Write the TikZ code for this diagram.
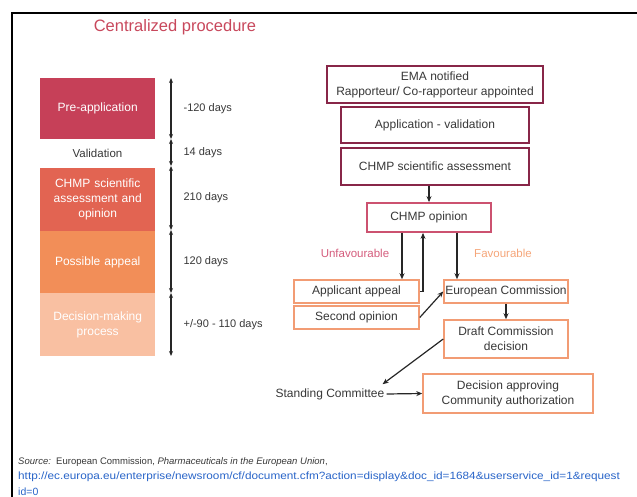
\documentclass[tikz,border=0pt]{standalone}
\usepackage{fontspec}
\usepackage{graphicx}
\setmainfont{Liberation Sans}
\usetikzlibrary{positioning, arrows.meta}
\definecolor{titleColor}{RGB}{200,72,92}
\definecolor{preColor}{RGB}{198,64,88}
\definecolor{chmpColor}{RGB}{226,100,82}
\definecolor{appealColor}{RGB}{242,142,88}
\definecolor{decisionColor}{RGB}{249,192,162}
\definecolor{maroonLine}{RGB}{136,38,72}
\definecolor{pinkLine}{RGB}{204,82,112}
\definecolor{orangeLine}{RGB}{242,156,116}
\definecolor{unfavColor}{RGB}{212,92,124}
\definecolor{favColor}{RGB}{245,166,122}
\definecolor{textGray}{RGB}{55,55,55}
\definecolor{urlBlue}{RGB}{40,100,200}
\tikzstyle{phaseStyle} = [anchor=north west, minimum width=115pt, text width=110pt, align=center, inner sep=0pt, text=white, font=\fontsize{12}{15}\selectfont]
\tikzstyle{stepStyle} = [draw, line width=1.8pt, text=textGray, align=center, inner sep=0pt, font=\fontsize{12}{15}\selectfont]
\tikzstyle{orangeStep} = [stepStyle, draw=orangeLine, line width=1.5pt]
\tikzstyle{flowArrow} = [-{Stealth[length=6pt, width=5pt]}, line width=1.2pt, black!85]
\tikzstyle{spanArrow} = [{Stealth[length=5pt, width=4pt]}-{Stealth[length=5pt, width=4pt]}, line width=1.2pt, black!85]
\tikzstyle{spanText} = [midway, right=12pt, inner sep=0pt, text=textGray, font=\fontsize{11}{13}\selectfont]
\tikzstyle{footText} = [anchor=west, inner sep=0pt, font=\fontsize{9.5}{11}\selectfont]
\newcommand{\timeSpan}[3]{\draw [spanArrow] (#1) -- (#2) node [spanText] {#3};}

\begin{document}
\begin{tikzpicture}[x=1pt, y=-1pt]
  \useasboundingbox (0,0) rectangle (637,497);
  \clip (0,0) rectangle (637,497);
  \draw [line width=2.5pt] (12,497) -- (12,13) -- (637,13);

  \node [text=titleColor, font=\fontsize{16.5}{20}\selectfont] (titleText) at (175,27) {Centralized procedure};

  \node [phaseStyle, fill=preColor, minimum height=61pt] (preApp) at (40,78) {Pre-application};
  \node [text=textGray, font=\fontsize{11.5}{14}\selectfont] (validationText) at (97.5,153) {Validation};
  \node [phaseStyle, fill=chmpColor, minimum height=63pt] (chmpPhase) at (40,168) {CHMP scientific\\assessment and\\opinion};
  \node [phaseStyle, fill=appealColor, minimum height=62pt] (appealPhase) at (40,231) {Possible appeal};
  \node [phaseStyle, fill=decisionColor, minimum height=63pt] (decisionPhase) at (40,293) {Decision-making\\process};

  \coordinate (tick0) at (171,78);
  \coordinate (tick1) at (171,139);
  \coordinate (tick2) at (171,166);
  \coordinate (tick3) at (171,230);
  \coordinate (tick4) at (171,293);
  \coordinate (tick5) at (171,356);
  \timeSpan{tick0}{tick1}{-120 days}
  \timeSpan{tick1}{tick2}{14 days}
  \timeSpan{tick2}{tick3}{210 days}
  \timeSpan{tick3}{tick4}{120 days}
  \timeSpan{tick4}{tick5}{+/-90 - 110 days}

  \node [stepStyle, draw=maroonLine, minimum width=216pt, minimum height=37pt] (emaBox) at (435,84.5) {EMA notified\\Rapporteur/ Co-rapporteur appointed};
  \node [stepStyle, draw=maroonLine, minimum width=188pt, minimum height=36pt] (appBox) at (435,125) {Application - validation};
  \node [stepStyle, draw=maroonLine, minimum width=188pt, minimum height=37pt] (sciBox) at (435,166.5) {CHMP scientific assessment};
  \node [stepStyle, draw=pinkLine, minimum width=124pt, minimum height=29pt] (opinionBox) at (429,217.5) {CHMP opinion};

  \node [text=unfavColor, font=\fontsize{11.5}{14}\selectfont] (unfavText) at (355,253) {Unfavourable};
  \node [text=favColor, font=\fontsize{11.5}{14}\selectfont] (favText) at (503,253) {Favourable};

  \node [orangeStep, minimum width=125pt, minimum height=23pt] (appealBox) at (356.5,291.5) {Applicant appeal};
  \node [orangeStep, minimum width=125pt, minimum height=23pt] (secondBox) at (356.5,317.5) {Second opinion};
  \node [orangeStep, minimum width=124pt, minimum height=23pt] (commissionBox) at (506,291.5) {European Commission};
  \node [orangeStep, minimum width=124pt, minimum height=38pt] (draftBox) at (506,339) {Draft Commission\\decision};
  \node [text=textGray, inner sep=2pt, font=\fontsize{12}{15}\selectfont] (standingText) at (330,394) {Standing Committee};
  \node [orangeStep, minimum width=170pt, minimum height=39pt] (decisionBox) at (508,393.5) {Decision approving\\Community authorization};

  \draw [flowArrow] (opinionBox.north |- sciBox.south) -- (opinionBox.north);
  \draw [flowArrow] ([xshift=-27pt]opinionBox.south) -- ([xshift=-27pt]opinionBox.south |- appealBox.north);
  \draw [flowArrow] (appealBox.east) -| ([xshift=-6pt]opinionBox.south);
  \draw [flowArrow] ([xshift=28pt]opinionBox.south) -- ([xshift=28pt]opinionBox.south |- commissionBox.north);
  \draw [flowArrow] (secondBox.east) -- (commissionBox.west);
  \draw [flowArrow] (commissionBox.south) -- (draftBox.north);
  \draw [flowArrow] (draftBox.west) -- ([xshift=-4pt, yshift=2pt]standingText.north east);
  \draw [flowArrow] (standingText.east) -- (decisionBox.west);

  \node [footText, text=textGray] (sourceLine) at (18,462) {\textit{Source:}\ \ European Commission, \textit{Pharmaceuticals in the European Union},};
  \node [footText, text=urlBlue, font=\fontsize{10.5}{12}\selectfont] (urlLine) at (18,477) {\scalebox{1.12}[1]{http://ec.europa.eu/enterprise/newsroom/cf/document.cfm?action=display\&doc\_id=1684\&userservice\_id=1\&request}};
  \node [footText, text=urlBlue, font=\fontsize{10.5}{12}\selectfont] (urlTail) at (18,492) {id=0};
\end{tikzpicture}
\end{document}
